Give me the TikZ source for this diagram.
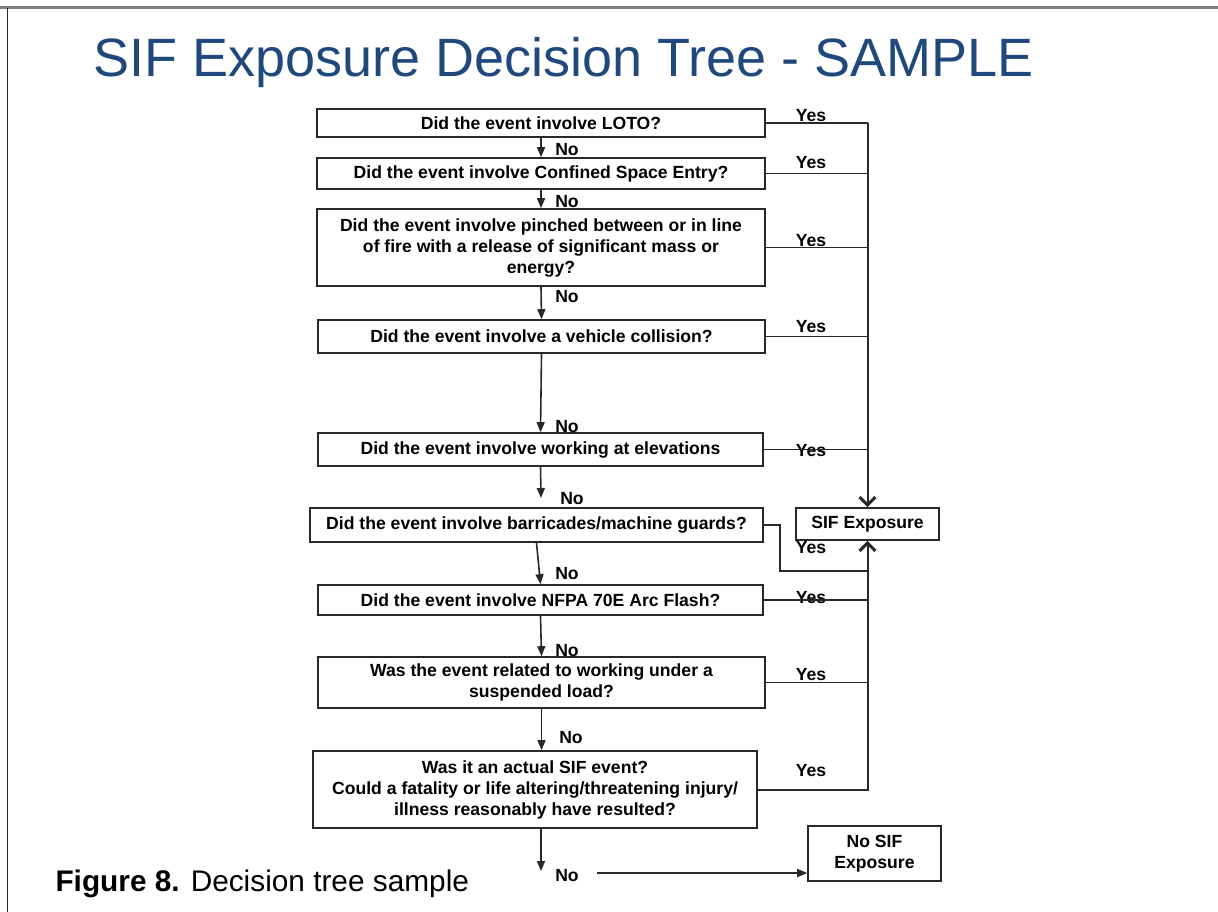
\documentclass[tikz,border=0pt]{standalone}
\usepackage{fontspec}
\setmainfont{Liberation Sans}
\usetikzlibrary{arrows.meta}
\definecolor{TitleBlue}{RGB}{31,73,125}
\definecolor{LineGray}{RGB}{40,40,40}

\begin{document}
\begin{tikzpicture}[x = 1pt, y = -1pt]
\tikzstyle{QuestionStyle}=[shape = rectangle,
                           draw = LineGray,
                           line width = 1.6pt,
                           align = center,
                           inner sep = 0pt,
                         font = \bfseries\fontsize{17.6}{21}\selectfont]
\tikzstyle{LabelStyle}=[inner sep = 0pt,
                        font = \bfseries\fontsize{17.6}{21}\selectfont]
\tikzstyle{EdgeStyle}=[draw = LineGray, line width = 1.6pt]
\tikzstyle{NoEdge}=[EdgeStyle, -{Triangle[length = 10pt, width = 8pt]}]
\tikzstyle{TrunkEdge}=[EdgeStyle, line width = 2pt,
                       -{Straight Barb[length = 8pt, width = 16pt, line width = 3pt]}]
\useasboundingbox (0, 0) rectangle (1218, 912);
\draw[draw = gray, line width = 3pt] (0, 8) -- (1218, 8);
\draw[draw = LineGray, line width = 1.2pt] (7.5, 8) -- (7.5, 912);
\node[anchor = base west, text = TitleBlue, font = \fontsize{54}{60}\selectfont] (title) at (90, 77) {SIF Exposure Decision Tree - SAMPLE};
\node[anchor = base west, font = \fontsize{29.8}{34}\selectfont] (caption) at (52, 891) {\textbf{Figure 8.} Decision tree sample};
\node[QuestionStyle, minimum width = 448, minimum height = 28] (q1) at (541, 123) {Did the event involve LOTO?};
\node[QuestionStyle, minimum width = 448, minimum height = 31] (q2) at (541, 173.5) {Did the event involve Confined Space Entry?};
\node[QuestionStyle, minimum width = 448, minimum height = 77] (q3) at (541, 247.5) {Did the event involve pinched between or in line\\of fire with a release of significant mass or\\energy?};
\node[QuestionStyle, minimum width = 447, minimum height = 33] (q4) at (541.5, 336.5) {Did the event involve a vehicle collision?};
\node[QuestionStyle, minimum width = 445, minimum height = 33] (q5) at (540.5, 449.5) {Did the event involve working at elevations};
\node[QuestionStyle, minimum width = 453, minimum height = 34] (q6) at (536.5, 525) {Did the event involve barricades/machine guards?};
\node[QuestionStyle, minimum width = 445, minimum height = 30] (q7) at (540.5, 600) {Did the event involve NFPA 70E Arc Flash?};
\node[QuestionStyle, minimum width = 447, minimum height = 51] (q8) at (541.5, 682.5) {Was the event related to working under a\\suspended load?};
\node[QuestionStyle, minimum width = 444, minimum height = 77] (q9) at (535, 789.5) {Was it an actual SIF event?\\Could a fatality or life altering/threatening injury/\\illness reasonably have resulted?};
\node[QuestionStyle, minimum width = 143, minimum height = 32] (sif) at (867.5, 524) {SIF Exposure};
\node[QuestionStyle, minimum width = 133, minimum height = 55] (nosif) at (874.5, 853.5) {No SIF\\Exposure};
\node[LabelStyle] (y1) at (811, 116) {Yes};
\node[LabelStyle] (y2) at (811, 163) {Yes};
\node[LabelStyle] (y3) at (811, 241) {Yes};
\node[LabelStyle] (y4) at (811, 327) {Yes};
\node[LabelStyle] (y5) at (811, 451) {Yes};
\node[LabelStyle] (y6) at (811, 548) {Yes};
\node[LabelStyle] (y7) at (811, 598) {Yes};
\node[LabelStyle] (y8) at (811, 675) {Yes};
\node[LabelStyle] (y9) at (811, 771) {Yes};
\node[LabelStyle] (n1) at (567, 150) {No};
\node[LabelStyle] (n2) at (567, 202) {No};
\node[LabelStyle] (n3) at (567, 297) {No};
\node[LabelStyle] (n4) at (567, 427) {No};
\node[LabelStyle] (n5) at (572, 499) {No};
\node[LabelStyle] (n6) at (567, 574) {No};
\node[LabelStyle] (n7) at (567, 651) {No};
\node[LabelStyle] (n8) at (571, 738) {No};
\node[LabelStyle] (n9) at (567, 876) {No};
\coordinate (e5) at (541, 498);
\coordinate (k6) at (780, 571);
\coordinate (e9) at (541, 871);
\coordinate (s9) at (597, 873);
\draw[NoEdge] (q1.south) -- (q2.north);
\draw[NoEdge] (q2.south) -- (q3.north);
\draw[NoEdge] (q3.south) -- (q4.north);
\draw[NoEdge] (q4.south) -- (q5.north);
\draw[NoEdge] (q5.south) -- (e5);
\draw[NoEdge] (q6.south) -- (q7.north);
\draw[NoEdge] (q7.south) -- (q8.north);
\draw[NoEdge] (q8.south) -- (q8.south |- q9.north);
\draw[NoEdge] (q9.south -| e9) -- (e9);
\draw[NoEdge] (s9) -- (s9 -| nosif.west);
\draw[EdgeStyle] (q1.east) -- (q1.east -| sif.north);
\draw[EdgeStyle] (q2.east) -- (q2.east -| sif.north);
\draw[EdgeStyle] (q3.east) -- (q3.east -| sif.north);
\draw[EdgeStyle] (q4.east) -- (q4.east -| sif.north);
\draw[EdgeStyle] (q5.east) -- (q5.east -| sif.north);
\draw[EdgeStyle] (q6.east) -| (k6) -- (k6 -| sif.south);
\draw[EdgeStyle] (q7.east) -- (q7.east -| sif.south);
\draw[EdgeStyle] (q8.east) -- (q8.east -| sif.south);
\draw[TrunkEdge] (q1.east -| sif.north) -- (sif.north);
\draw[TrunkEdge] (q9.east) -| (sif.south);
\end{tikzpicture}
\end{document}
